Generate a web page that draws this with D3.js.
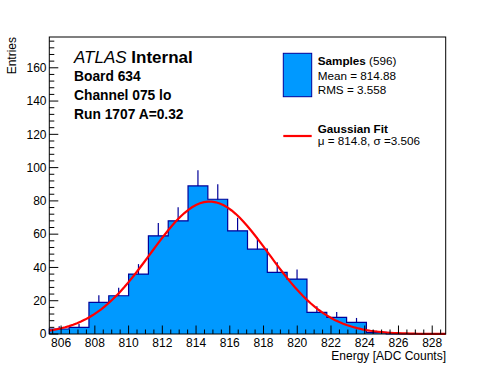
<!DOCTYPE html>
<html lang="en">
<head>
  <meta charset="UTF-8">
  <title>Board 634 Channel 075 lo</title>
  <script src="https://d3js.org/d3.v7.min.js"></script>
  <style>
    body { margin: 0; background: #fff; }
    svg { display: block; font-family: "Liberation Sans", Arial, sans-serif; }
  </style>
</head>
<body>
  <div id="chart"></div>
  <script>
    // histogram: 20 bins starting at 805.3, width 1.175 ADC counts
    const binLow = 805.3;
    const binWidth = 1.175;
    const counts = [3, 4, 19, 23, 36, 59, 68, 89, 81, 62, 51, 37, 33, 13, 10, 7, 1, 0, 0, 0];

    // gaussian fit parameters
    const fitConst = 79.6;
    const fitMu = 814.8;
    const fitSigma = 3.506;

    // tick labels
    const xTicks = [806, 808, 810, 812, 814, 816, 818, 820, 822, 824, 826, 828];
    const yTicks = [0, 20, 40, 60, 80, 100, 120, 140, 160];

    const infoLines = ["Board 634", "Channel 075 lo", "Run 1707 A=0.32"];

    const width = 496, height = 372;
    const frame = { left: 49.3, right: 445.7, top: 37, bottom: 334 };

    const binHigh = binLow + binWidth * counts.length;
    const x = d3.scaleLinear().domain([binLow, binHigh]).range([frame.left, frame.right]);
    const y = d3.scaleLinear().domain([0, 178.5]).range([frame.bottom, frame.top]);

    const svg = d3.select("#chart").append("svg")
      .attr("width", width)
      .attr("height", height);

    svg.append("rect").attr("width", width).attr("height", height).attr("fill", "#fff");

    const fillColor = "#0099ff";
    const lineColor = "#000099";

    // error bars first, the filled histogram hides the lower half
    const bins = counts.map((c, i) => ({ x0: binLow + i * binWidth, x1: binLow + (i + 1) * binWidth, n: c }));

    svg.append("g")
      .attr("stroke", lineColor)
      .attr("stroke-width", 1.2)
      .selectAll("line")
      .data(bins.filter(d => d.n > 0))
      .join("line")
      .attr("x1", d => x((d.x0 + d.x1) / 2))
      .attr("x2", d => x((d.x0 + d.x1) / 2))
      .attr("y1", d => y(Math.max(0, d.n - Math.sqrt(d.n))))
      .attr("y2", d => y(d.n + Math.sqrt(d.n)));

    // step outline of the histogram
    const steps = [];
    bins.forEach(d => { steps.push([d.x0, d.n]); steps.push([d.x1, d.n]); });

    const area = d3.area()
      .x(d => x(d[0]))
      .y0(y(0))
      .y1(d => y(d[1]));

    svg.append("path")
      .datum(steps)
      .attr("fill", fillColor)
      .attr("d", area);

    svg.append("path")
      .datum([[binLow, 0], ...steps])
      .attr("fill", "none")
      .attr("stroke", lineColor)
      .attr("stroke-width", 1.2)
      .attr("d", d3.line().x(d => x(d[0])).y(d => y(d[1])));

    // fit curve
    const fitPts = d3.range(0, 101).map(i => {
      const xv = binLow + (binHigh - binLow) * i / 100;
      return [xv, fitConst * Math.exp(-0.5 * Math.pow((xv - fitMu) / fitSigma, 2))];
    });

    svg.append("path")
      .datum(fitPts)
      .attr("fill", "none")
      .attr("stroke", "#ff0000")
      .attr("stroke-width", 2.2)
      .attr("d", d3.line().x(d => x(d[0])).y(d => y(d[1])));

    // frame
    svg.append("rect")
      .attr("x", frame.left)
      .attr("y", frame.top)
      .attr("width", frame.right - frame.left)
      .attr("height", frame.bottom - frame.top)
      .attr("fill", "none")
      .attr("stroke", "#000")
      .attr("stroke-width", 1);

    // x axis ticks
    const xMinor = d3.range(805.5, binHigh, 0.5);
    svg.append("g")
      .attr("stroke", "#000")
      .selectAll("line")
      .data(xMinor)
      .join("line")
      .attr("x1", d => x(d)).attr("x2", d => x(d))
      .attr("y1", frame.bottom)
      .attr("y2", d => frame.bottom - (d % 2 === 0 ? 8.5 : 4.5));

    svg.append("g")
      .attr("font-size", 12)
      .attr("text-anchor", "middle")
      .selectAll("text")
      .data(xTicks)
      .join("text")
      .attr("x", d => x(d))
      .attr("y", 346.5)
      .text(d => d);

    // y axis ticks
    const yMinor = d3.range(0, 177, 4);
    svg.append("g")
      .attr("stroke", "#000")
      .selectAll("line")
      .data(yMinor)
      .join("line")
      .attr("y1", d => y(d)).attr("y2", d => y(d))
      .attr("x1", frame.left)
      .attr("x2", d => frame.left + (d % 20 === 0 ? 9 : 5));

    svg.append("g")
      .attr("font-size", 12)
      .attr("text-anchor", "end")
      .selectAll("text")
      .data(yTicks)
      .join("text")
      .attr("x", 46.5)
      .attr("y", d => y(d))
      .attr("dy", "0.36em")
      .text(d => d);

    // axis titles
    svg.append("text")
      .attr("x", 446)
      .attr("y", 360)
      .attr("text-anchor", "end")
      .attr("font-size", 12)
      .text("Energy [ADC Counts]");

    svg.append("text")
      .attr("transform", "translate(16,37) rotate(-90)")
      .attr("text-anchor", "end")
      .attr("font-size", 12)
      .text("Entries");

    // ATLAS label
    const atlas = svg.append("text")
      .attr("x", 74)
      .attr("y", 62.7)
      .attr("font-size", 17);
    atlas.append("tspan").attr("font-style", "italic").text("ATLAS");
    atlas.append("tspan").attr("font-weight", "bold").text(" Internal");

    svg.append("g")
      .attr("font-size", 13.8)
      .attr("font-weight", "bold")
      .selectAll("text")
      .data(infoLines)
      .join("text")
      .attr("x", 74)
      .attr("y", (d, i) => 81 + i * 19)
      .text(d => d);

    // legend
    const leg = svg.append("g").attr("font-size", 11.7);
    leg.append("rect")
      .attr("x", 283.3).attr("y", 53.3)
      .attr("width", 28.4).attr("height", 43.4)
      .attr("fill", fillColor)
      .attr("stroke", lineColor)
      .attr("stroke-width", 1);

    const s = leg.append("text").attr("x", 317.7).attr("y", 65.3);
    s.append("tspan").attr("font-weight", "bold").text("Samples");
    s.append("tspan").text(" (596)");
    leg.append("text").attr("x", 317.7).attr("y", 80).text("Mean = 814.88");
    leg.append("text").attr("x", 317.7).attr("y", 94).text("RMS = 3.558");

    leg.append("line")
      .attr("x1", 283.3).attr("x2", 311.7)
      .attr("y1", 136).attr("y2", 136)
      .attr("stroke", "#ff0000")
      .attr("stroke-width", 2.2);
    leg.append("text").attr("x", 317.7).attr("y", 132.7).attr("font-weight", "bold").text("Gaussian Fit");
    leg.append("text").attr("x", 317.7).attr("y", 145.3).text("\u03bc = 814.8, \u03c3 =3.506");
  </script>
</body>
</html>
